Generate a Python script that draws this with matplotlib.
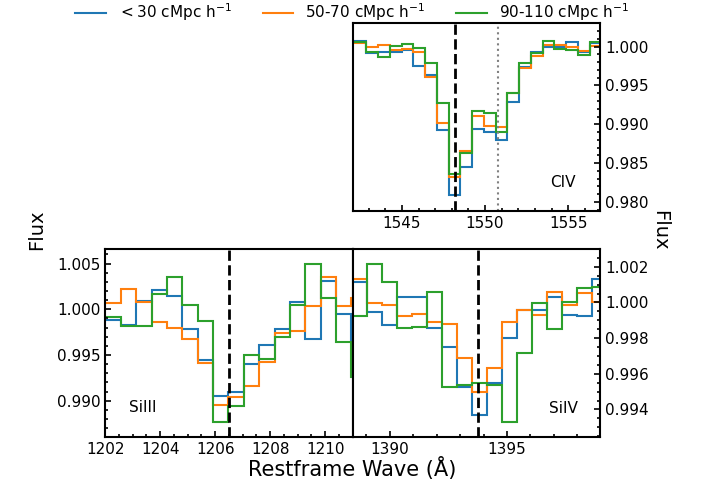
import matplotlib
matplotlib.use("Agg")
import matplotlib.pyplot as plt
from matplotlib.ticker import AutoMinorLocator, MultipleLocator

# ----- DATA (stacked flux per wavelength bin) -----

labels = [r"$<30$ cMpc h$^{-1}$", r"50-70 cMpc h$^{-1}$", r"90-110 cMpc h$^{-1}$"]

civ_edges = [1542.0, 1542.86, 1543.567, 1544.273, 1544.98, 1545.687, 1546.393,
             1547.10, 1547.807, 1548.513, 1549.22, 1549.927, 1550.633, 1551.34,
             1552.047, 1552.753, 1553.46, 1554.167, 1554.873, 1555.58, 1556.287,
             1556.993]
civ_lt30 = [1.00077, 0.99914, 0.99935, 0.99935, 0.99957, 0.9975, 0.99634, 0.98933,
            0.98086, 0.98452, 0.98942, 0.98903, 0.98796, 0.9929, 0.99742, 0.99927,
            0.99991, 0.99991, 1.00056, 0.99927, 1.00043]
civ_50_70 = [1.00052, 1.0, 1.00022, 0.99957, 0.99966, 0.99927, 0.99604, 0.99011,
             0.98323, 0.98658, 0.99105, 0.98976, 0.98968, 0.99406, 0.99729, 0.99884,
             1.00022, 1.00022, 0.99991, 0.99948, 1.00013]
civ_90_110 = [1.00065, 0.99927, 0.99871, 1.00013, 1.0003, 0.99987, 0.99794, 0.99269,
              0.98366, 0.98632, 0.99174, 0.99148, 0.98903, 0.99406, 0.99785, 0.99923,
              1.00077, 0.99966, 0.99957, 0.99892, 1.00065]

siiii_edges = [1202.0, 1202.578, 1203.136, 1203.694, 1204.252, 1204.81, 1205.368,
               1205.926, 1206.484, 1207.042, 1207.6, 1208.158, 1208.716, 1209.274,
               1209.832, 1210.39, 1210.93, 1211.5]
siiii_lt30 = [0.99883, 0.99828, 1.00091, 1.00212, 1.00146, 0.99781, 0.99444, 0.99056,
              0.99093, 0.994, 0.99609, 0.99781, 1.00084, 0.99671, 1.00311, 0.99949,
              0.9966]
siiii_50_70 = [1.00066, 1.00227, 1.00084, 0.99865, 0.99791, 0.99671, 0.99415, 0.9895,
               0.99042, 0.99159, 0.99426, 0.99744, 0.99766, 1.00037, 1.00351, 1.00037,
               1.0012]
siiii_90_110 = [0.9992, 0.99817, 0.99817, 1.00168, 1.00358, 1.00048, 0.99872, 0.98767,
                0.98943, 0.99499, 0.99462, 0.99693, 1.00044, 1.00494, 1.00121, 0.99645,
                0.99261]

siiv_edges = [1388.365, 1389.006, 1389.647, 1390.288, 1390.929, 1391.57, 1392.211,
              1392.852, 1393.493, 1394.134, 1394.775, 1395.416, 1396.057, 1396.698,
              1397.339, 1397.98, 1398.621, 1399.262]
siiv_lt30 = [1.00115, 0.99945, 0.99875, 1.00031, 1.00028, 0.99859, 0.99752, 0.99527,
             0.99367, 0.99546, 0.998, 0.9996, 0.99955, 1.00031, 0.99931, 0.99925,
             1.00132]
siiv_50_70 = [1.00129, 0.99997, 0.99984, 0.99925, 0.99934, 0.99888, 0.99878, 0.99687,
              0.99499, 0.9963, 0.9989, 0.9996, 0.99931, 1.00057, 0.99988, 1.00054, 1.0]
siiv_90_110 = [0.99922, 1.00217, 1.00113, 0.99856, 0.99865, 1.00058, 0.99524, 0.99536,
               0.99549, 0.99536, 0.9933, 0.99718, 0.99997, 0.9985, 1.0, 1.00082,
               1.00086]

line_centres = {"CIV": [1548.20, 1550.78], "SiIII": [1206.50], "SiIV": [1393.76]}

# ----- PLOTTING -----

colors = ["C0", "C1", "C2"]


def style_axis(ax, right=False):
    ax.tick_params(which="both", direction="in", width=1.2, labelsize=11)
    ax.tick_params(which="major", length=4)
    ax.tick_params(which="minor", length=2)
    ax.xaxis.set_minor_locator(AutoMinorLocator())
    ax.yaxis.set_minor_locator(AutoMinorLocator())
    ax.ticklabel_format(axis="y", useOffset=False)
    if right:
        ax.yaxis.tick_right()
    for s in ax.spines.values():
        s.set_linewidth(1.5)


def draw_panel(ax, edges, series, name, xlim, ylim):
    for vals, c, lab in zip(series, colors, labels):
        ax.stairs(vals, edges, baseline=None, color=c, lw=1.5, label=lab)
    ax.axvline(line_centres[name][0], color="k", ls="--", lw=2)
    for lam in line_centres[name][1:]:
        ax.axvline(lam, color="grey", ls=":", lw=1.5)
    ax.set_xlim(*xlim)
    ax.set_ylim(*ylim)


fig = plt.figure(figsize=(7.06, 4.86), dpi=100)
gs = fig.add_gridspec(2, 2, left=0.149, right=0.85, bottom=0.101, top=0.952,
                      wspace=0, hspace=0.2)
ax_civ = fig.add_subplot(gs[0, 1])
ax_s3 = fig.add_subplot(gs[1, 0])
ax_s4 = fig.add_subplot(gs[1, 1])

draw_panel(ax_civ, civ_edges, [civ_lt30, civ_50_70, civ_90_110], "CIV",
           (1542.04, 1556.92), (0.9788, 1.0030))
draw_panel(ax_s3, siiii_edges, [siiii_lt30, siiii_50_70, siiii_90_110], "SiIII",
           (1202.0, 1211.0), (0.98605, 1.0066))
draw_panel(ax_s4, siiv_edges, [siiv_lt30, siiv_50_70, siiv_90_110], "SiIV",
           (1388.41, 1398.98), (0.99246, 1.0030))

style_axis(ax_civ, right=True)
style_axis(ax_s3)
style_axis(ax_s4, right=True)
ax_civ.xaxis.set_major_locator(MultipleLocator(5))
ax_s3.xaxis.set_major_locator(MultipleLocator(2))
ax_s4.xaxis.set_major_locator(MultipleLocator(5))
ax_s4.yaxis.set_major_locator(MultipleLocator(0.002))

ax_civ.text(0.85, 0.152, "CIV", transform=ax_civ.transAxes, ha="center",
            va="center", fontsize=11)
ax_s3.text(0.15, 0.156, "SiIII", transform=ax_s3.transAxes, ha="center",
           va="center", fontsize=11)
ax_s4.text(0.853, 0.152, "SiIV", transform=ax_s4.transAxes, ha="center",
           va="center", fontsize=11)

fig.text(0.052, 0.5265, "Flux", rotation=90, ha="center", va="center", fontsize=14)
fig.text(0.934, 0.5265, "Flux", rotation=270, ha="center", va="center", fontsize=14)
fig.text(0.4995, 0.036, "Restframe Wave (Å)", ha="center", va="center", fontsize=15)

handles, labs = ax_civ.get_legend_handles_labels()
fig.legend(handles, labs, loc="upper center", bbox_to_anchor=(0.4986, 1.025),
           ncol=3, frameon=False, fontsize=11)

fig.savefig("out.png", dpi=100)
